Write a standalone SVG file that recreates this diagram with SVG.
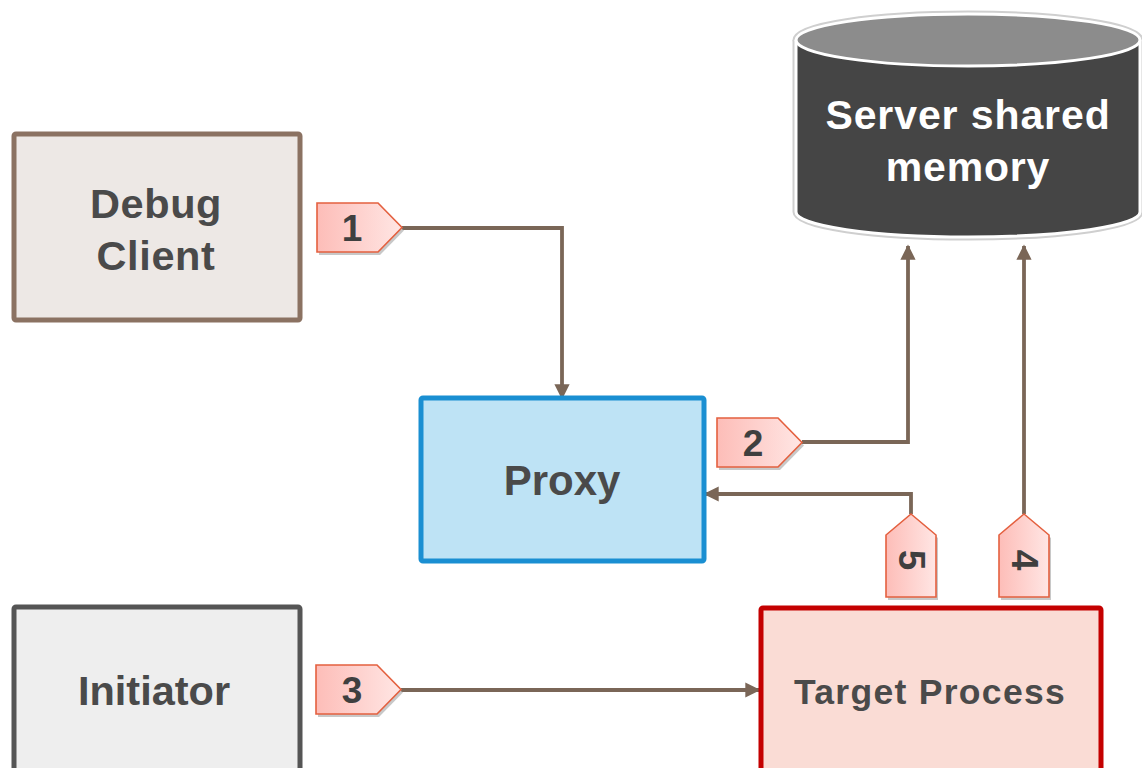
<svg xmlns="http://www.w3.org/2000/svg" width="1142" height="768" viewBox="0 0 1142 768">
<defs>
<style>
.lbl{font-family:"Liberation Sans",Arial,sans-serif;font-weight:bold;fill:#4a4a4a;text-anchor:middle}
.tagtxt{font-family:"Liberation Sans",Arial,sans-serif;font-weight:bold;fill:#3f3f3f;text-anchor:middle;font-size:37px}
.conn{fill:none;stroke:#7a6657;stroke-width:3.8}
.tag{fill:url(#tg);stroke:#e4603f;stroke-width:1.6}
.shadow{fill:#b0b0b0;opacity:0.7}
</style>
<linearGradient id="tg" x1="0" y1="0" x2="1" y2="0">
<stop offset="0" stop-color="#fdbdb8"/>
<stop offset="1" stop-color="#ffe6e4"/>
</linearGradient>
<marker id="arr" viewBox="0 0 10 10" refX="9" refY="5" markerWidth="4.2" markerHeight="4" orient="auto" markerUnits="strokeWidth">
<path d="M0,0 L10,5 L0,10 Z" fill="#7a6657"/>
</marker>
<path id="htag" d="M0,0 H61 L85,24.5 L61,49 H0 Z"/>
<path id="vtag" d="M25,0 L50,21 V83 H0 V21 Z"/>
</defs>
<rect width="1142" height="768" fill="#ffffff"/>

<g id="connectors">
<path class="conn" d="M402,228 H562 V398" marker-end="url(#arr)"/>
<path class="conn" d="M802,442 H908 V246" marker-end="url(#arr)"/>
<path class="conn" d="M401,690 H759" marker-end="url(#arr)"/>
<path class="conn" d="M911,514 V494 H705" marker-end="url(#arr)"/>
<path class="conn" d="M1024,514 V246" marker-end="url(#arr)"/>
</g>

<g id="debug-client">
<rect x="14" y="134" width="286" height="186" rx="2" fill="#ede8e5" stroke="#8b7262" stroke-width="5"/>
<text class="lbl" x="156" y="218" font-size="41.5" letter-spacing="0.6">Debug</text>
<text class="lbl" x="156" y="270" font-size="41.5" letter-spacing="0.6">Client</text>
</g>

<g id="initiator">
<rect x="14" y="607" width="286" height="180" rx="2" fill="#eeeeee" stroke="#555555" stroke-width="5"/>
<text class="lbl" x="154" y="705" font-size="41.5">Initiator</text>
</g>

<g id="proxy">
<rect x="421" y="398" width="283" height="163" rx="2" fill="#bee3f5" stroke="#1a8fd2" stroke-width="5"/>
<text class="lbl" x="562" y="495" font-size="42">Proxy</text>
</g>

<g id="target-process">
<rect x="761" y="608" width="340" height="180" rx="2" fill="#fadcd5" stroke="#c40000" stroke-width="5"/>
<text class="lbl" x="930" y="704" font-size="35.5" letter-spacing="1.3">Target Process</text>
</g>

<g id="server-shared-memory">
<path d="M796,40 V212 A172,25 0 0 0 1140,212 V40" fill="#454545" stroke="#cfcfcf" stroke-width="7"/>
<ellipse cx="968" cy="40" rx="172" ry="26" fill="#8c8c8c" stroke="#cfcfcf" stroke-width="7"/>
<path d="M796,40 V212 A172,25 0 0 0 1140,212 V40" fill="#454545" stroke="#ffffff" stroke-width="3"/>
<ellipse cx="968" cy="40" rx="172" ry="26" fill="#8c8c8c" stroke="#ffffff" stroke-width="3"/>
<text class="lbl" x="968" y="129" font-size="41" letter-spacing="0.9" style="fill:#ffffff">Server shared</text>
<text class="lbl" x="968" y="181" font-size="41" letter-spacing="0.8" style="fill:#ffffff">memory</text>
</g>

<g id="tag-1">
<use href="#htag" class="shadow" transform="translate(319,206)"/>
<use href="#htag" class="tag" transform="translate(317,203)"/>
<text class="tagtxt" x="352" y="241">1</text>
</g>
<g id="tag-2">
<use href="#htag" class="shadow" transform="translate(719,421)"/>
<use href="#htag" class="tag" transform="translate(717,418)"/>
<text class="tagtxt" x="753" y="456">2</text>
</g>
<g id="tag-3">
<use href="#htag" class="shadow" transform="translate(318,668)"/>
<use href="#htag" class="tag" transform="translate(316,665)"/>
<text class="tagtxt" x="352" y="703">3</text>
</g>
<g id="tag-5">
<use href="#vtag" class="shadow" transform="translate(888,517)"/>
<use href="#vtag" class="tag" transform="translate(886,514)"/>
<text class="tagtxt" transform="translate(899,560) rotate(90)">5</text>
</g>
<g id="tag-4">
<use href="#vtag" class="shadow" transform="translate(1001,517)"/>
<use href="#vtag" class="tag" transform="translate(999,514)"/>
<text class="tagtxt" transform="translate(1012,560) rotate(90)">4</text>
</g>
</svg>
